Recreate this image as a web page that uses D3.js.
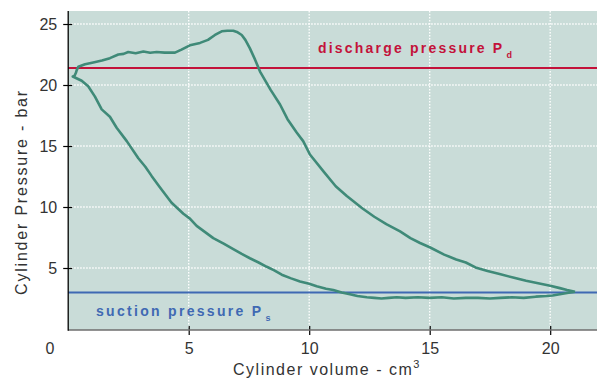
<!DOCTYPE html>
<html><head><meta charset="utf-8">
<script src="https://cdn.jsdelivr.net/npm/d3@7"></script>
<style>body{margin:0;background:#fff}svg{display:block}</style>
</head><body>
<svg id="c" width="597" height="379"></svg>
<script>
const xTicks = [5, 10, 15, 20];
const yTicks = [5, 10, 15, 20, 25];
const dischargePressure = 21.4;
const suctionPressure = 3.0;
// P-V loop: compression branch (right->left), discharge plateau, expansion, suction
const loopVolume = [21.03, 20.7, 20.4, 20.0, 19.5, 19.0, 18.5, 17.9, 17.4, 16.9, 16.5, 16.1, 15.6, 15.0, 14.6, 14.2, 13.77, 13.2, 12.7, 12.2, 11.56, 11.1, 10.6, 10.03, 9.75, 9.48, 9.1, 8.79, 8.4, 7.96, 7.75, 7.54, 7.35, 7.2, 7.0, 6.85, 6.6, 6.37, 6.09, 5.8, 5.47, 5.05, 4.7, 4.43, 4.0, 3.67, 3.4, 3.12, 2.8, 2.49, 2.3, 2.08, 1.73, 1.4, 1.04, 0.70, 0.42, 0.35, 0.32, 0.26, 0.19, 0.56, 0.83, 1.11, 1.39, 1.73, 2.01, 2.43, 2.91, 3.2, 3.46, 3.81, 4.29, 4.78, 5.05, 5.33, 5.47, 6.02, 6.45, 6.85, 7.2, 7.54, 7.9, 8.24, 8.55, 8.86, 9.25, 9.62, 10.0, 10.31, 10.7, 11.0, 11.35, 11.69, 12.0, 12.39, 12.7, 13.0, 13.3, 13.63, 14.0, 14.5, 15.0, 15.5, 16.0, 16.5, 17.0, 17.5, 17.92, 18.4, 18.9, 19.4, 19.85, 20.1, 20.4, 20.7, 21.03];
const loopPressure = [3.06, 3.2, 3.35, 3.55, 3.75, 3.95, 4.2, 4.5, 4.75, 5.05, 5.45, 5.7, 6.1, 6.7, 7.05, 7.45, 8.0, 8.6, 9.2, 9.9, 10.9, 11.7, 12.9, 14.3, 15.4, 16.1, 17.2, 18.4, 19.6, 21.1, 22.1, 23.0, 23.7, 24.1, 24.35, 24.45, 24.45, 24.4, 24.1, 23.7, 23.45, 23.25, 22.9, 22.65, 22.65, 22.7, 22.65, 22.75, 22.6, 22.7, 22.55, 22.5, 22.2, 22.0, 21.85, 21.7, 21.5, 21.2, 21.0, 20.75, 20.7, 20.35, 19.9, 19.05, 18.0, 17.4, 16.5, 15.4, 14.0, 13.3, 12.55, 11.6, 10.35, 9.45, 9.05, 8.45, 8.25, 7.45, 7.0, 6.55, 6.15, 5.8, 5.45, 5.1, 4.8, 4.45, 4.15, 3.9, 3.7, 3.5, 3.3, 3.2, 3.0, 2.85, 2.7, 2.6, 2.55, 2.5, 2.55, 2.6, 2.55, 2.6, 2.55, 2.6, 2.5, 2.55, 2.55, 2.5, 2.55, 2.6, 2.55, 2.65, 2.7, 2.75, 2.85, 2.95, 3.06];

const FONT = 'Liberation Sans, Arial, Helvetica, sans-serif';
const svg = d3.select('#c');
const pL = 68.2, pR = 597, pT = 11, pB = 330;
const x = d3.scaleLinear().domain([0, 22]).range([68.2, 68.2 + 24.1 * 22]);
const y = d3.scaleLinear().domain([0, 26]).range([329, 329 - 12.2 * 26]);

svg.append('rect').attr('x', pL).attr('y', pT).attr('width', pR - pL).attr('height', pB - pT).attr('fill', '#c9dcd8');

// grid
const g = svg.append('g');
g.selectAll('.gx').data(xTicks).enter().append('line')
  .attr('x1', d => x(d)).attr('x2', d => x(d)).attr('y1', pT).attr('y2', pB)
  .attr('stroke', '#fff').attr('stroke-width', 1.3).attr('stroke-dasharray', '1.5,1.5');
g.selectAll('.gy').data(yTicks).enter().append('line')
  .attr('x1', pL).attr('x2', pR).attr('y1', d => y(d)).attr('y2', d => y(d))
  .attr('stroke', '#fff').attr('stroke-width', 1.3).attr('stroke-dasharray', '1.5,1.5');

// reference lines
svg.append('line').attr('x1', pL).attr('x2', pR).attr('y1', y(dischargePressure)).attr('y2', y(dischargePressure))
  .attr('stroke', '#c3123a').attr('stroke-width', 2);
svg.append('line').attr('x1', pL).attr('x2', pR).attr('y1', y(suctionPressure)).attr('y2', y(suctionPressure))
  .attr('stroke', '#3f69b3').attr('stroke-width', 2);

// loop
const pts = loopVolume.map((v, i) => [v, loopPressure[i]]);
svg.append('path').datum(pts)
  .attr('d', d3.line().x(d => x(d[0])).y(d => y(d[1])).curve(d3.curveLinear))
  .attr('fill', 'none').attr('stroke', '#3f8a78').attr('stroke-width', 2.6).attr('stroke-linejoin', 'round');

// axes
const xAxis = d3.axisBottom(x).tickValues(xTicks).tickSize(0).tickPadding(0).tickFormat(d3.format('d'));
const ax = svg.append('g').attr('transform', `translate(0,${pB})`).call(xAxis);
ax.select('.domain').remove();
ax.selectAll('.tick line').attr('y1', -4).attr('y2', 5).attr('stroke', '#000').attr('stroke-width', 1.2);
ax.selectAll('.tick text').attr('y', 24).attr('dy', 0).attr('font-family', FONT).attr('font-size', 16).attr('fill', '#333');
svg.append('line').attr('x1', pL).attr('x2', pR).attr('y1', pB).attr('y2', pB).attr('stroke', '#6e6e6e').attr('stroke-width', 1.6);

const yAxis = d3.axisLeft(y).tickValues(yTicks).tickSize(0).tickPadding(0).tickFormat(d3.format('d'));
const ay = svg.append('g').attr('transform', `translate(${pL},0)`).call(yAxis);
ay.select('.domain').remove();
ay.selectAll('.tick line').attr('x1', -5).attr('x2', 4).attr('stroke', '#000').attr('stroke-width', 1.2);
ay.selectAll('.tick text').attr('x', -11).attr('dy', '0.35em').attr('font-family', FONT).attr('font-size', 16).attr('fill', '#333');
svg.append('line').attr('x1', pL).attr('x2', pL).attr('y1', pT).attr('y2', pB + 0.8).attr('stroke', '#000').attr('stroke-width', 1.3);

svg.append('text').attr('x', 50).attr('y', 354).attr('text-anchor', 'middle')
  .attr('font-family', FONT).attr('font-size', 16).attr('fill', '#333').text('0');

// titles
svg.append('text').attr('x', 327).attr('y', 375).attr('text-anchor', 'middle')
  .attr('font-family', FONT).attr('font-size', 16).attr('letter-spacing', 1.5).attr('fill', '#333')
  .html('Cylinder volume - cm<tspan dy="-7" font-size="11">3</tspan>');
svg.append('text').attr('transform', 'translate(27,192) rotate(-90)').attr('text-anchor', 'middle')
  .attr('font-family', FONT).attr('font-size', 16).attr('letter-spacing', 1.8).attr('fill', '#333')
  .text('Cylinder Pressure - bar');

// labels
svg.append('text').attr('x', 318).attr('y', 52.5)
  .attr('font-family', FONT).attr('font-weight', 'bold').attr('font-size', 14).attr('letter-spacing', 2.2).attr('fill', '#c3123a')
  .html('discharge pressure P<tspan dx="2" dy="5" font-size="9">d</tspan>');
svg.append('text').attr('x', 96).attr('y', 315.5)
  .attr('font-family', FONT).attr('font-weight', 'bold').attr('font-size', 14).attr('letter-spacing', 2.3).attr('fill', '#3f69b3')
  .html('suction pressure P<tspan dx="2" dy="5" font-size="9">s</tspan>');
</script>
</body></html>
